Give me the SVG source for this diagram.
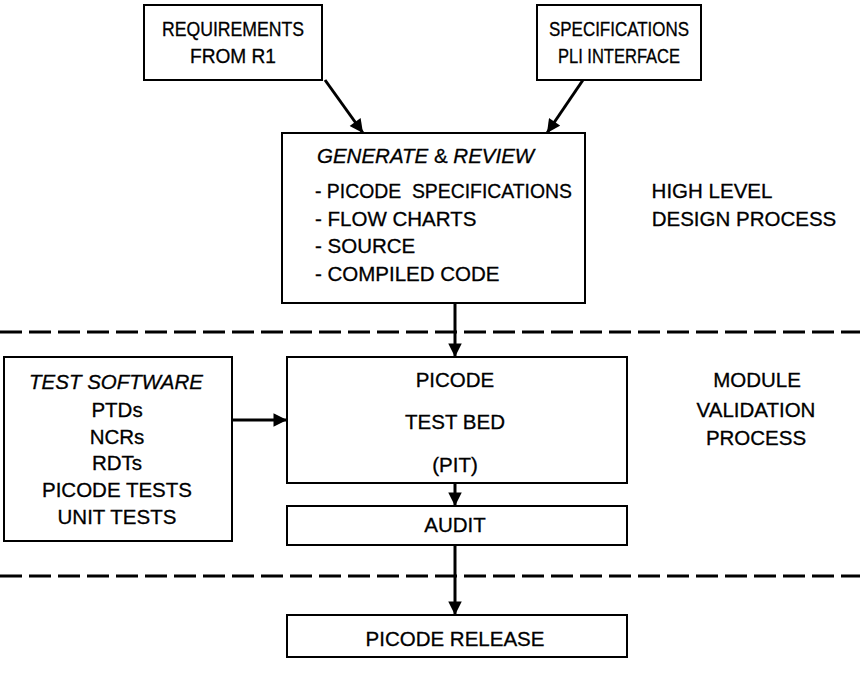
<svg xmlns="http://www.w3.org/2000/svg" width="860" height="674" viewBox="0 0 860 674">
  <style>
    .box { fill: #fff; stroke: #000; stroke-width: 2; }
    .t { font-family: "Liberation Sans", Arial, sans-serif; font-size: 20.5px; fill: #000; stroke: #000; stroke-width: 0.3; }
    .s { font-size: 19.5px; }
    .c { text-anchor: middle; }
    .i { font-style: italic; }
    .link { stroke: #000; stroke-width: 3; fill: none; marker-end: url(#head); }
    .rule { stroke: #000; stroke-width: 3; stroke-dasharray: 22 7; fill: none; }
  </style>
  <defs>
    <marker id="head" viewBox="0 0 10 10" refX="10" refY="5" markerWidth="5" markerHeight="4.5" markerUnits="strokeWidth" orient="auto">
      <path d="M0,0 L10,5 L0,10 Z" fill="#000"/>
    </marker>
  </defs>

  <rect width="860" height="674" fill="#fff"/>

  <!-- phase separators -->
  <g id="separators">
    <line class="rule" x1="0" y1="332" x2="860" y2="332"/>
    <line class="rule" x1="0" y1="576" x2="860" y2="576"/>
  </g>

  <g id="requirements">
    <rect class="box" x="144" y="5" width="178" height="75"/>
    <text class="t s c" x="233" y="36" textLength="142" lengthAdjust="spacingAndGlyphs">REQUIREMENTS</text>
    <text class="t s c" x="233" y="63" textLength="86" lengthAdjust="spacingAndGlyphs">FROM R1</text>
  </g>

  <g id="specifications">
    <rect class="box" x="537" y="5" width="164" height="75"/>
    <text class="t s c" x="619" y="36" textLength="140" lengthAdjust="spacingAndGlyphs">SPECIFICATIONS</text>
    <text class="t s c" x="619" y="63" textLength="122" lengthAdjust="spacingAndGlyphs">PLI INTERFACE</text>
  </g>

  <g id="generate-review">
    <rect class="box" x="282" y="133" width="303" height="170"/>
    <text class="t i" x="317" y="163">GENERATE <tspan font-style="normal">&amp;</tspan> REVIEW</text>
    <text class="t" x="315" y="198" textLength="257" lengthAdjust="spacingAndGlyphs">- PICODE&#160; SPECIFICATIONS</text>
    <text class="t" x="315" y="226">- FLOW CHARTS</text>
    <text class="t" x="315" y="253">- SOURCE</text>
    <text class="t" x="315" y="281">- COMPILED CODE</text>
  </g>

  <g id="high-level-label">
    <text class="t c" x="712" y="198">HIGH LEVEL</text>
    <text class="t c" x="744" y="226">DESIGN PROCESS</text>
  </g>

  <g id="test-software">
    <rect class="box" x="4" y="357" width="228" height="184"/>
    <text class="t c i" x="116" y="389">TEST SOFTWARE</text>
    <text class="t c" x="117" y="417">PTDs</text>
    <text class="t c" x="117" y="444">NCRs</text>
    <text class="t c" x="117" y="470">RDTs</text>
    <text class="t c" x="117" y="497">PICODE TESTS</text>
    <text class="t c" x="117" y="524">UNIT TESTS</text>
  </g>

  <g id="test-bed">
    <rect class="box" x="287" y="357" width="340" height="126"/>
    <text class="t c" x="455" y="387">PICODE</text>
    <text class="t c" x="455" y="429">TEST BED</text>
    <text class="t c" x="455" y="472">(PIT)</text>
  </g>

  <g id="module-label">
    <text class="t c" x="757" y="387">MODULE</text>
    <text class="t c" x="756" y="417">VALIDATION</text>
    <text class="t c" x="756" y="445">PROCESS</text>
  </g>

  <g id="audit">
    <rect class="box" x="287" y="506" width="340" height="39"/>
    <text class="t c" x="455" y="532">AUDIT</text>
  </g>

  <g id="release">
    <rect class="box" x="287" y="615" width="340" height="42"/>
    <text class="t c" x="455" y="646">PICODE RELEASE</text>
  </g>

  <g id="connectors">
    <line class="link" x1="325" y1="80" x2="363" y2="133"/>
    <line class="link" x1="583" y1="80" x2="547" y2="133"/>
    <line class="link" x1="455" y1="303" x2="455" y2="357"/>
    <line class="link" x1="232" y1="420" x2="287" y2="420"/>
    <line class="link" x1="455" y1="483" x2="455" y2="506"/>
    <line class="link" x1="455" y1="545" x2="455" y2="615"/>
  </g>
</svg>
